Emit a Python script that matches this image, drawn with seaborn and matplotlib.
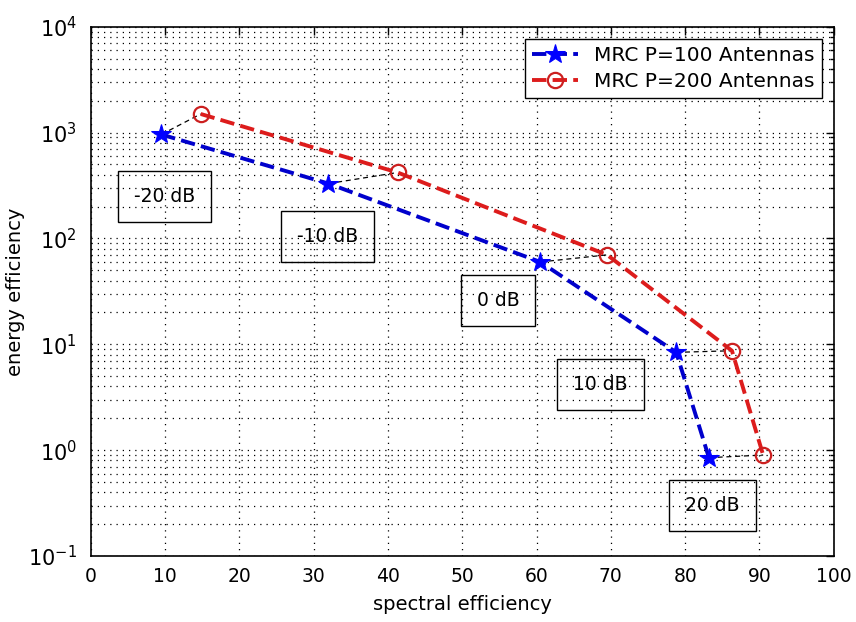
import numpy as np
import pandas as pd
import matplotlib
matplotlib.use("Agg")
import matplotlib.pyplot as plt
import seaborn as sns
from matplotlib.ticker import LogLocator, LogFormatterMathtext, NullFormatter

# data
snr_labels = ["-20 dB", "-10 dB", "0 dB", "10 dB", "20 dB"]
se_100 = [9.5, 32.0, 60.5, 78.8, 83.2]
ee_100 = [960, 330, 60, 8.4, 0.85]
se_200 = [14.8, 41.3, 69.5, 86.3, 90.5]
ee_200 = [1500, 420, 70, 8.7, 0.9]
label_x = [9.9, 31.9, 54.8, 68.6, 83.7]
label_y = [250, 104, 26, 4.2, 0.30]

sns.set_theme(style="white")
plt.rcParams["font.family"] = ["DejaVu Sans"]
plt.rcParams["mathtext.default"] = "regular"
plt.rcParams["text.color"] = "black"

df = pd.DataFrame({
    "se": se_100 + se_200,
    "ee": ee_100 + ee_200,
    "series": ["MRC P=100 Antennas"] * 5 + ["MRC P=200 Antennas"] * 5,
})

fig = plt.figure(figsize=(8.56, 6.22), dpi=100)
ax = fig.add_axes([0.106, 0.106, 0.868, 0.851])

d1 = df[df["series"] == "MRC P=100 Antennas"]
d2 = df[df["series"] == "MRC P=200 Antennas"]
sns.lineplot(data=d1, x="se", y="ee", ax=ax, color="#0000cc", linestyle="--", linewidth=2.8,
             marker="*", markersize=15, markeredgecolor="#0000ff", markerfacecolor="#0000ff",
             dashes=(3.5, 2.5), label="MRC P=100 Antennas", sort=False)
sns.lineplot(data=d2, x="se", y="ee", ax=ax, color="#dd1c1c", linestyle="--", linewidth=2.8,
             marker="o", markersize=11, markeredgecolor="#cc2020", markerfacecolor="none",
             markeredgewidth=1.6, dashes=(3.5, 2.5), label="MRC P=200 Antennas", sort=False)

# thin black dashed connectors between the two antenna counts at each SNR
for i in range(len(snr_labels)):
    ax.plot([se_100[i], se_200[i]], [ee_100[i], ee_200[i]], color="black",
            linestyle=(0, (4, 3)), linewidth=0.9, zorder=1)
    ax.text(label_x[i], label_y[i], snr_labels[i], fontsize=13.5, ha="center", va="center",
            color="black",
            bbox=dict(boxstyle="square,pad=0.85", facecolor="none", edgecolor="black", linewidth=1.0))

ax.set_yscale("log")
ax.set_xlim(0, 100)
ax.set_ylim(0.1, 1e4)
ax.set_xticks(np.arange(0, 101, 10))
ax.yaxis.set_major_locator(LogLocator(base=10))
ax.yaxis.set_major_formatter(LogFormatterMathtext())
ax.yaxis.set_minor_locator(LogLocator(base=10, subs=np.arange(2, 10)))
ax.yaxis.set_minor_formatter(NullFormatter())

ax.grid(True, which="major", axis="both", color="black", linestyle=(0, (1, 4)), linewidth=0.9)
ax.grid(True, which="minor", axis="y", color="black", linestyle=(0, (1, 4)), linewidth=0.9)

ax.tick_params(axis="both", which="both", direction="in", top=True, right=True,
               labelsize=13.5, colors="black")
ax.tick_params(axis="both", which="major", length=6, width=1)
ax.tick_params(axis="x", which="major", pad=8)
ax.tick_params(axis="y", which="major", pad=10, labelsize=15)
ax.tick_params(axis="y", which="minor", length=3, width=1)
for s in ax.spines.values():
    s.set_color("black")
    s.set_linewidth(1.2)

ax.set_xlabel("spectral efficiency", fontsize=14, color="black", labelpad=6)
ax.set_ylabel("energy efficiency", fontsize=14, color="black", labelpad=2)

leg = ax.legend(loc="upper right", fontsize=14.5, frameon=True, fancybox=False,
                edgecolor="black", framealpha=1, handlelength=2.3, borderpad=0.35,
                labelspacing=0.35, borderaxespad=0.6)
leg.get_frame().set_linewidth(1.0)

fig.savefig("out.png", dpi=100)
